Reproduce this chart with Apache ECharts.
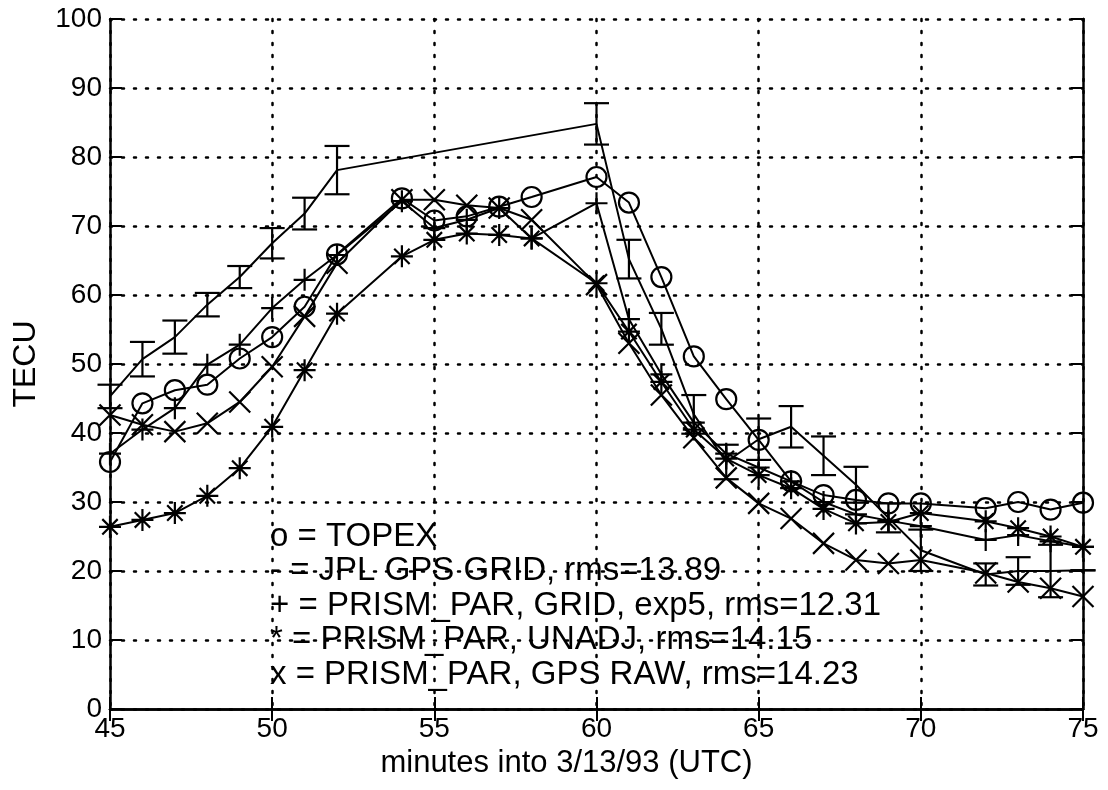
<!DOCTYPE html>
<html>
<head>
<meta charset="utf-8">
<script src="https://cdn.jsdelivr.net/npm/echarts@6/dist/echarts.min.js"></script>
<style>
  html, body { margin: 0; padding: 0; background: #fff; }
  #chart { width: 1108px; height: 790px; }
</style>
</head>
<body>
<div id="chart"></div>
<script>
// minutes into 3/13/93 (UTC)
const fullMinutes = [45, 46, 47, 48, 49, 50, 51, 52, 54, 55, 56, 57, 58, 60, 61, 62, 63, 64, 65, 66, 67, 68, 69, 70, 72, 73, 74, 75];
const jplMinutes = [45, 46, 47, 48, 49, 50, 51, 52, 60, 61, 62, 63, 64, 65, 66, 67, 68, 69, 70, 72, 73, 74, 75];

const topex = [35.8, 44.3, 46.2, 47.0, 50.8, 53.9, 58.3, 65.9, 74.0, 70.8, 71.4, 72.8, 74.2, 77.1, 73.4, 62.6, 51.1, 44.9, 39.0, 33.0, 31.0, 30.3, 29.8, 29.8, 29.1, 30.0, 28.9, 29.9];
const jplGrid = [45.3, 50.7, 53.9, 58.6, 62.6, 67.5, 71.8, 78.1, 84.8, 65.2, 55.1, 42.7, 35.8, 39.1, 40.9, 36.7, 32.5, 27.7, 23.0, 19.5, 20.0, 20.0, 20.1];
const jplErr = [1.7, 2.5, 2.4, 1.7, 1.6, 2.2, 2.3, 3.5, 3.0, 2.8, 2.3, 2.8, 2.5, 3.0, 3.0, 2.8, 2.6, 2.1, 3.0, 1.6, 2.0, 3.8, 0];
const prismGrid = [37.0, 40.5, 43.6, 49.9, 52.8, 58.1, 62.2, 65.8, 73.6, 69.7, 70.9, 72.6, 68.2, 73.3, 56.5, 48.5, 41.5, 37.0, 35.0, 33.0, 30.0, 28.2, 27.3, 26.5, 24.5, 25.2, 24.3, 23.5];
const prismUnadj = [26.4, 27.4, 28.4, 30.9, 34.9, 40.9, 49.1, 57.3, 65.6, 68.0, 68.9, 68.7, 68.2, 61.7, 54.7, 47.4, 40.5, 36.3, 33.9, 32.0, 29.0, 26.9, 27.1, 28.4, 27.2, 26.2, 25.0, 23.5];
const prismRaw = [42.6, 41.2, 40.2, 41.4, 44.5, 49.6, 56.9, 64.6, 73.8, 73.8, 73.0, 72.6, 70.9, 61.5, 53.0, 45.5, 39.3, 33.5, 29.8, 27.6, 24.0, 21.6, 21.1, 21.6, 19.7, 18.4, 17.5, 16.3];

const notes = [
  'o = TOPEX',
  '- = JPL GPS GRID, rms=13.89',
  '+ = PRISM_PAR, GRID, exp5, rms=12.31',
  '* = PRISM_PAR, UNADJ, rms=14.15',
  'x = PRISM_PAR, GPS RAW, rms=14.23'
];

const FONT = '"Liberation Sans", Arial, Helvetica, sans-serif';
const SYM_X = 'path://M0 0 L10 10 M10 0 L0 10';
const SYM_PLUS = 'path://M5 0 L5 10 M0 5 L10 5';
const SYM_STAR = 'path://M5 0 L5 10 M0 5 L10 5 M1.5 1.5 L8.5 8.5 M8.5 1.5 L1.5 8.5';

const pairs = (xs, ys) => xs.map((x, i) => [x, ys[i]]);

function lineSeries(name, xs, ys, symbol, size) {
  return {
    name,
    type: 'line',
    data: pairs(xs, ys),
    symbol,
    symbolSize: size,
    showSymbol: true,
    silent: true,
    lineStyle: { color: '#000', width: 2 },
    itemStyle: { color: 'none', borderColor: '#000', borderWidth: 2.2 },
    emphasis: { disabled: true },
    z: 3
  };
}

const gridLine = { show: true, lineStyle: { color: '#000', width: 2.5, type: [2, 10], cap: 'round' } };
const axisTxt = { color: '#000', fontSize: 28, fontFamily: FONT };
const tickIn = { inside: true, length: 12, lineStyle: { color: '#000', width: 2 } };
const axLine = { lineStyle: { color: '#000', width: 2.5 } };

const chart = echarts.init(document.getElementById('chart'));
chart.setOption({
  animation: false,
  backgroundColor: '#fff',
  grid: { left: 110, right: 25, top: 19, bottom: 81 },
  xAxis: [
    {
      type: 'value', min: 45, max: 75, interval: 5,
      name: 'minutes into 3/13/93 (UTC)', nameLocation: 'middle', nameGap: 36,
      nameTextStyle: { color: '#000', fontSize: 31, fontFamily: FONT, padding: [0, 60, 0, 0] },
      axisLine: axLine,
      axisTick: tickIn,
      axisLabel: Object.assign({ margin: 6 }, axisTxt),
      splitLine: gridLine
    },
    {
      type: 'value', min: 45, max: 75, interval: 5, position: 'top',
      axisLine: axLine, axisTick: tickIn,
      axisLabel: { show: false }, splitLine: { show: false }
    }
  ],
  yAxis: [
    {
      type: 'value', min: 0, max: 100, interval: 10,
      name: 'TECU', nameLocation: 'middle', nameGap: 68,
      nameTextStyle: { color: '#000', fontSize: 32, fontFamily: FONT },
      axisLine: axLine,
      axisTick: tickIn,
      axisLabel: Object.assign({ margin: 8 }, axisTxt),
      splitLine: gridLine
    },
    {
      type: 'value', min: 0, max: 100, interval: 10, position: 'right',
      axisLine: axLine, axisTick: tickIn,
      axisLabel: { show: false }, splitLine: { show: false }
    }
  ],
  graphic: notes.map((t, i) => ({
    type: 'text',
    x: 270,
    y: 536.5 + i * 34.5,
    z: 10,
    style: { text: t, fill: '#000', font: '33px ' + FONT, verticalAlign: 'middle', align: 'left' }
  })),
  series: [
    lineSeries('TOPEX', fullMinutes, topex, 'circle', 20),
    lineSeries('JPL GPS GRID', jplMinutes, jplGrid, 'none', 0),
    {
      name: 'JPL error bars',
      type: 'custom',
      silent: true,
      z: 4,
      data: jplMinutes.map((t, i) => [t, jplGrid[i] - jplErr[i], jplGrid[i] + jplErr[i]]),
      renderItem(params, api) {
        const lo = api.coord([api.value(0), api.value(1)]);
        const hi = api.coord([api.value(0), api.value(2)]);
        const w = 12.5;
        const st = { stroke: '#000', lineWidth: 2.2 };
        return {
          type: 'group',
          children: [
            { type: 'line', shape: { x1: lo[0], y1: lo[1], x2: hi[0], y2: hi[1] }, style: st },
            { type: 'line', shape: { x1: lo[0] - w, y1: lo[1], x2: lo[0] + w, y2: lo[1] }, style: st },
            { type: 'line', shape: { x1: hi[0] - w, y1: hi[1], x2: hi[0] + w, y2: hi[1] }, style: st }
          ]
        };
      }
    },
    lineSeries('PRISM_PAR GRID', fullMinutes, prismGrid, SYM_PLUS, 22),
    lineSeries('PRISM_PAR UNADJ', fullMinutes, prismUnadj, SYM_STAR, 22),
    lineSeries('PRISM_PAR GPS RAW', fullMinutes, prismRaw, SYM_X, 21)
  ]
});
</script>
</body>
</html>
